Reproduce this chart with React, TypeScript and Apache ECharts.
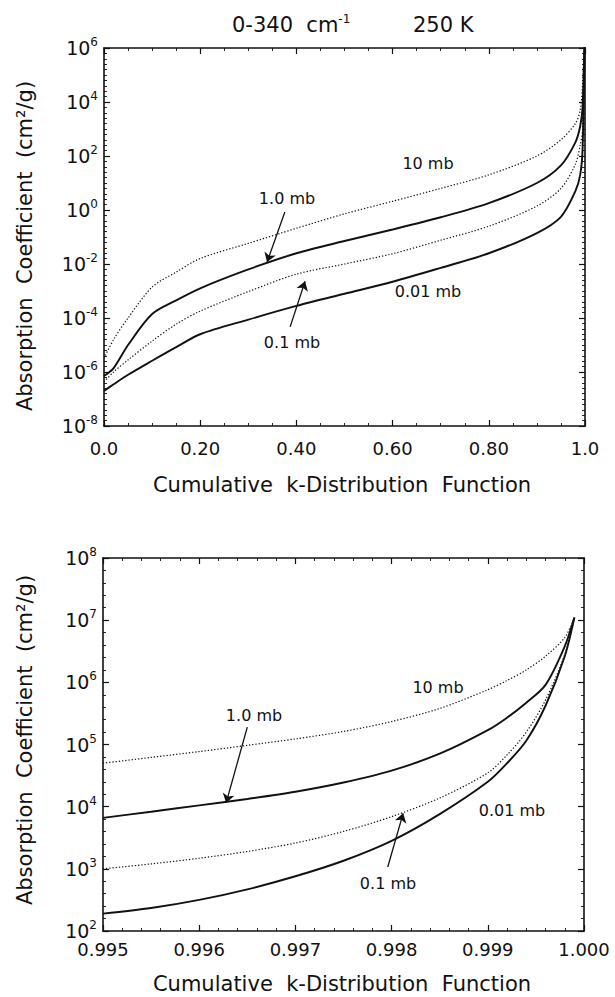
import React, { useEffect, useRef } from "react";
import * as echarts from "echarts";

// ---------- data (absorption coefficient, cm^2/g) ----------
const topX = [0, 0.02, 0.05, 0.1, 0.15, 0.2, 0.3, 0.4, 0.5, 0.6, 0.7, 0.8, 0.9, 0.95, 0.98, 0.99, 0.995, 0.9999];
const top10mb = [3.2e-6, 1.6e-5, 1.0e-4, 1.4e-3, 5.0e-3, 1.6e-2, 5.8e-2, 0.21, 0.72, 2.1, 6.3, 20, 100, 400, 1600, 5000, 5.0e4, 1.1e7];
const top1mb = [7.1e-7, 1.4e-6, 1.0e-5, 1.4e-4, 4.5e-4, 1.26e-3, 6.3e-3, 2.5e-2, 7.1e-2, 0.19, 0.54, 1.8, 10, 45, 320, 1260, 6.6e3, 1.1e7];
const top01mb = [4.3e-7, 1.0e-6, 2.8e-6, 1.4e-5, 5.9e-5, 1.8e-4, 9.5e-4, 4.2e-3, 1.0e-2, 2.4e-2, 7.6e-2, 0.25, 1.4, 6.3, 50, 250, 1.0e3, 1.1e7];
const top001mb = [2.0e-7, 3.5e-7, 7.9e-7, 2.6e-6, 8.3e-6, 2.5e-5, 8.7e-5, 2.8e-4, 7.9e-4, 2.2e-3, 7.2e-3, 2.5e-2, 0.14, 0.56, 5.0, 20, 190, 1.1e7];

const botX = [0.995, 0.9955, 0.996, 0.9965, 0.997, 0.9975, 0.998, 0.9985, 0.999, 0.9992, 0.9994, 0.9996, 0.9998, 0.9999];
const bot10mb = [5.0e4, 6.2e4, 7.7e4, 9.7e4, 1.23e5, 1.62e5, 2.34e5, 3.8e5, 7.6e5, 1.07e6, 1.58e6, 2.63e6, 5.25e6, 1.1e7];
const bot1mb = [6.6e3, 8.3e3, 1.05e4, 1.33e4, 1.74e4, 2.45e4, 3.8e4, 7.1e4, 1.7e5, 2.7e5, 4.7e5, 9.1e5, 3.8e6, 1.1e7];
const bot01mb = [1.0e3, 1.2e3, 1.48e3, 1.9e3, 2.6e3, 4.0e3, 6.9e3, 1.38e4, 3.5e4, 6.8e4, 1.58e5, 5.2e5, 2.8e6, 1.1e7];
const bot001mb = [190, 234, 316, 468, 759, 1349, 2818, 7586, 2.51e4, 5.0e4, 1.15e5, 4.2e5, 2.63e6, 1.1e7];

// annotation arrows: [from, to] in data space (x, k)
const topArrow1mb = [[0.376, 0.84], [0.339, 0.0118]];
const topArrow01mb = [[0.387, 4.7e-5], [0.418, 2.3e-3]];
const botArrow1mb = [[0.9965, 1.9e5], [0.99628, 1.15e4]];
const botArrow01mb = [[0.99796, 1.07e3], [0.99812, 7.8e3]];

const curveLabels = ["10 mb", "1.0 mb", "0.1 mb", "0.01 mb"];
const titleLeft = "0-340  cm";
const titleSup = "-1";
const titleRight = "250 K";
const yName = "Absorption  Coefficient  (cm\u00b2/g)";
const xName = "Cumulative  k-Distribution  Function";

const FONT = "DejaVu Sans";
const BLACK = "#111";

const pairs = (xs: number[], ys: number[]) => xs.map((x, i) => [x, Math.log10(ys[i])]);
const arrowData = (a: number[][]) => [[{ coord: [a[0][0], Math.log10(a[0][1])] }, { coord: [a[1][0], Math.log10(a[1][1])] }]];

function axisCommon(gridIndex: number, min: number, max: number, interval: number, minorSplit: number) {
  return {
    type: "value",
    gridIndex,
    min,
    max,
    interval,
    axisLine: { show: true, onZero: false, lineStyle: { color: BLACK, width: 1.6 } },
    axisTick: { show: true, inside: true, length: 6, lineStyle: { color: BLACK, width: 1.2 } },
    minorTick: { show: true, splitNumber: minorSplit, length: 3, lineStyle: { color: BLACK, width: 0.9 } },
    splitLine: { show: false },
    minorSplitLine: { show: false },
  };
}

function xAxes(gridIndex: number, min: number, max: number, interval: number, minorSplit: number, fmt: (v: number) => string, margin: number) {
  const c = axisCommon(gridIndex, min, max, interval, minorSplit);
  return [
    { ...c, position: "bottom", axisLabel: { show: true, margin, formatter: fmt, color: BLACK, fontSize: 18, fontFamily: FONT } },
    { ...c, position: "top", axisLabel: { show: false } },
  ];
}

function yAxes(gridIndex: number, min: number, max: number, interval: number, minorSplit: number) {
  const c = axisCommon(gridIndex, min, max, interval, minorSplit);
  return [
    {
      ...c,
      position: "left",
      axisLabel: {
        show: true,
        margin: 6,
        formatter: (v: number) => `{b|10}{s|${Math.round(v)}}`,
        rich: {
          b: { fontSize: 19, fontFamily: FONT, color: BLACK },
          s: { fontSize: 12, fontFamily: FONT, color: BLACK, padding: [0, 0, 12, 0] },
        },
      },
    },
    { ...c, position: "right", axisLabel: { show: false } },
  ];
}

function lineSeries(name: string, data: number[][], xi: number, yi: number, dotted: boolean, arrow?: number[][]) {
  const s: any = {
    name,
    type: "line",
    xAxisIndex: xi,
    yAxisIndex: yi,
    data,
    showSymbol: false,
    symbol: "none",
    smooth: 0.3,
    clip: true,
    lineStyle: dotted ? { color: BLACK, width: 1.2, type: [1.3, 1.9] } : { color: BLACK, width: 1.9 },
    silent: true,
  };
  if (arrow) {
    s.markLine = {
      silent: true,
      symbol: ["none", "arrow"],
      symbolSize: 9,
      label: { show: false },
      lineStyle: { color: BLACK, width: 1.3, type: "solid" },
      data: arrowData(arrow),
    };
  }
  return s;
}

function textEl(text: string, x: number, y: number, size: number, align = "center", rotation = 0) {
  return {
    type: "text",
    x,
    y,
    rotation,
    silent: true,
    style: { text, fill: BLACK, font: `${size}px '${FONT}'`, align, verticalAlign: "middle" },
  };
}

export default function App() {
  const ref = useRef<HTMLDivElement>(null);
  useEffect(() => {
    if (!ref.current) return;
    const chart = echarts.init(ref.current, undefined, { renderer: "svg" });
    const topFmt = (v: number) => (Math.abs(v) < 1e-9 ? "0.0" : Math.abs(v - 1) < 1e-9 ? "1.0" : v.toFixed(2));
    const botFmt = (v: number) => v.toFixed(3);
    const option: any = {
      animation: false,
      backgroundColor: "#fff",
      grid: [
        { left: 104, top: 48, width: 481, height: 378, show: false },
        { left: 103, top: 558, width: 481, height: 373, show: false },
      ],
      xAxis: [
        ...xAxes(0, 0, 1, 0.2, 4, topFmt, 13),
        ...xAxes(1, 0.995, 1.0, 0.001, 5, botFmt, 9),
      ],
      yAxis: [...yAxes(0, -8, 6, 2, 10), ...yAxes(1, 2, 8, 1, 5)],
      series: [
        lineSeries("10 mb", pairs(topX, top10mb), 0, 0, true),
        lineSeries("1.0 mb", pairs(topX, top1mb), 0, 0, false, topArrow1mb),
        lineSeries("0.1 mb", pairs(topX, top01mb), 0, 0, true, topArrow01mb),
        lineSeries("0.01 mb", pairs(topX, top001mb), 0, 0, false),
        lineSeries("10 mb ", pairs(botX, bot10mb), 2, 2, true),
        lineSeries("1.0 mb ", pairs(botX, bot1mb), 2, 2, false, botArrow1mb),
        lineSeries("0.1 mb ", pairs(botX, bot01mb), 2, 2, true, botArrow01mb),
        lineSeries("0.01 mb ", pairs(botX, bot001mb), 2, 2, false),
      ],
      graphic: [
        {
          type: "text",
          x: 232,
          y: 25,
          silent: true,
          style: {
            text: `{a|${titleLeft}}{s|${titleSup}}`,
            align: "left",
            verticalAlign: "middle",
            rich: {
              a: { fontSize: 21, fontFamily: FONT, fill: BLACK, color: BLACK },
              s: { fontSize: 12, fontFamily: FONT, fill: BLACK, color: BLACK, padding: [0, 0, 12, 0] },
            },
          },
        },
        textEl(titleRight, 413, 25, 21, "left"),
        textEl(yName, 25, 246, 21, "center", Math.PI / 2),
        textEl(yName, 25, 740, 21, "center", Math.PI / 2),
        textEl(xName, 342, 485, 21, "center"),
        textEl(xName, 342, 984, 21, "center"),
        textEl(curveLabels[0], 428, 163, 16),
        textEl(curveLabels[1], 287, 198, 16),
        textEl(curveLabels[2], 292, 342, 16),
        textEl(curveLabels[3], 428, 291, 16),
        textEl(curveLabels[0], 438, 687, 16),
        textEl(curveLabels[1], 254, 715, 16),
        textEl(curveLabels[2], 388, 883, 16),
        textEl(curveLabels[3], 512, 810, 16),
      ],
    };
    chart.setOption(option);
    return () => chart.dispose();
  }, []);
  return <div ref={ref} style={{ position: "absolute", left: 0, top: 0, width: 615, height: 997 }} />;
}
